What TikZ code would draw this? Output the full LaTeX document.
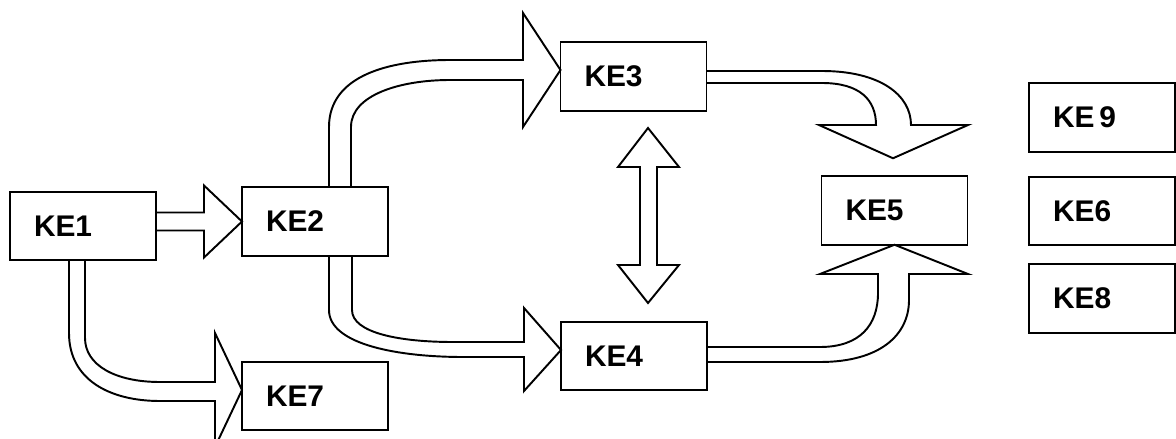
\documentclass[tikz,border=0pt]{standalone}
\usepackage{fontspec}
\setmainfont{Liberation Sans}
\usetikzlibrary{calc}
\begin{document}
\begin{tikzpicture}[x=0.02cm,y=-0.02cm,
  box/.style={draw, line width=1.1pt, outer sep=0pt, minimum height=68.5*0.02cm,
    text width=98*0.02cm, inner xsep=24*0.02cm, inner ysep=0pt, align=left,
    font=\fontsize{17}{20}\selectfont\bfseries},
  barrow/.style={draw, line width=1.1pt, line join=miter, miter limit=20}]
\fill[white] (0,0) rectangle (1176,439);
\useasboundingbox (0,0) rectangle (1176,439);
% boxes
\node[box] (ke1) at (83,226) {KE1};
\node[box] (ke2) at (315,221.5) {KE2};
\node[box] (ke3) at (633.5,76.5) {KE3};
\node[box] (ke4) at (634,356) {KE4};
\node[box] (ke5) at (894.5,210.5) {KE5};
\node[box] (ke7) at (315,396) {KE7};
\node[box] (ke9) at (1102,117.5) {KE\,9};
\node[box] (ke6) at (1102,211) {KE6};
\node[box] (ke8) at (1102,298.5) {KE8};
% KE1 -> KE2
\draw[barrow] ($(ke1.east)+(0,-13.5)$) -- (204,212.5) -- (204,185.5) -- (ke2.west)
  -- (204,257.5) -- (204,230.5) -- ($(ke1.east)+(0,4.5)$);
% KE2 -> KE3
\draw[barrow] ($(ke2.north)+(14,0)$) -- (329,127) .. controls (329,75) and (390,60) .. (450,60)
  -- (523,60) -- (523,13) -- ($(ke3.west)+(0,-6.5)$) -- (523,127) -- (523,80) -- (450,80)
  .. controls (400,80) and (351,95) .. (351,127) -- ($(ke2.north)+(36,0)$);
% KE2 -> KE4
\draw[barrow] ($(ke2.south)+(14,0)$) -- (329,310) .. controls (329,345) and (400,357) .. (463,357)
  -- (524,357) -- (524,391) -- ($(ke4.west)+(0,-6)$) -- (524,308) -- (524,342) -- (453,342)
  .. controls (400,342) and (352,333) .. (352,310) -- ($(ke2.south)+(37,0)$);
% KE1 -> KE7
\draw[barrow] ($(ke1.south)+(-14,0)$) -- (69,333) .. controls (69,380) and (110,401) .. (160,401)
  -- (215,401) -- (215,447) -- ($(ke7.west)+(0,-6)$) -- (215,333) -- (215,382) -- (160,382)
  .. controls (115,382) and (85,365) .. (85,338) -- ($(ke1.south)+(2,0)$);
% KE3 -> KE5
\draw[barrow] ($(ke3.east)+(0,-5.5)$) -- (822,71) .. controls (880,71) and (911,95) .. (911,125)
  -- (968,125) -- ($(ke5.north)+(-1.5,-18)$) -- (819,125) -- (876,125)
  .. controls (876,100) and (860,83) .. (822,83) -- ($(ke3.east)+(0,6.5)$);
% KE4 -> KE5
\draw[barrow] ($(ke4.east)+(0,-9)$) -- (820,347) .. controls (860,347) and (878,325) .. (878,293)
  -- (878,274) -- (820,274) -- (ke5.south) -- (968,274) -- (909,274) -- (909,300)
  .. controls (909,335) and (880,362) .. (820,362) -- ($(ke4.east)+(0,6)$);
% KE3 <-> KE4
\coordinate (dtop) at (648,128);
\coordinate (dbot) at (648,303);
\draw[barrow] (dtop) -- (679,167) -- (657,167) -- (657,265) -- (679,265) -- (dbot)
  -- (618,265) -- (640,265) -- (640,167) -- (618,167) -- cycle;
\end{tikzpicture}
\end{document}
